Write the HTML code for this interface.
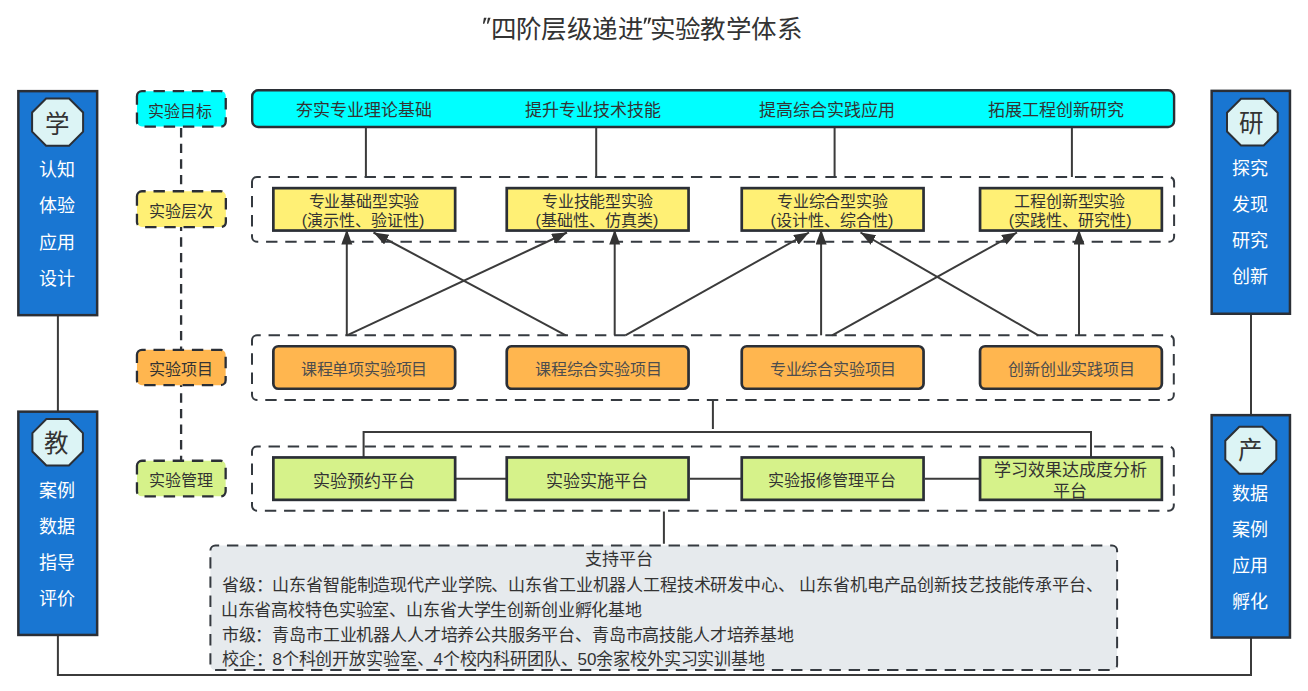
<!DOCTYPE html>
<html lang="zh-CN">
<head>
<meta charset="utf-8">
<style>
html,body{margin:0;padding:0;background:#fff;}
body{width:1308px;height:691px;overflow:hidden;position:relative;font-family:"Liberation Sans",sans-serif;}
svg{position:absolute;left:0;top:0;}
text{font-family:"Liberation Sans",sans-serif;}
</style>
</head>
<body>
<svg width="1308" height="691" viewBox="0 0 1308 691">
<defs>
<marker id="ah" markerUnits="userSpaceOnUse" markerWidth="20" markerHeight="20" refX="15" refY="5.5" orient="auto">
<path d="M0,0 L15,5.5 L0,11 Z" fill="#333"/>
</marker>
</defs>
<g fill="#333">
<text x="490.5" y="38.3" font-size="25.5" fill="#333333" text-anchor="start" textLength="153.3" lengthAdjust="spacing">四阶层级递进</text>
<text x="649.5" y="38.3" font-size="25.5" fill="#333333" text-anchor="start" textLength="153.1" lengthAdjust="spacing">实验教学体系</text>
<path d="M483.9,17.8 H486.6 L484.3,23.7 H482.9 Z M487.9,17.8 H490.6 L488.3,23.7 H486.9 Z M644.6,17.8 H647.3 L645,23.7 H643.6 Z M648.6,17.8 H651.3 L649,23.7 H647.6 Z"/>
</g>
<path d="M57.9,316 V411 M57.9,636 V675 H1251 V638 M1251,315 V414" fill="none" stroke="#3b3b3b" stroke-width="2"/>
<rect x="18.35" y="91.15" width="78.80" height="224.00" fill="#1976D2" stroke="#2b2f36" stroke-width="2.5"/>
<rect x="18.35" y="411.65" width="78.80" height="223.30" fill="#1976D2" stroke="#2b2f36" stroke-width="2.5"/>
<rect x="1211.65" y="90.85" width="78.30" height="222.90" fill="#1976D2" stroke="#2b2f36" stroke-width="2.5"/>
<rect x="1211.65" y="415.15" width="78.30" height="222.40" fill="#1976D2" stroke="#2b2f36" stroke-width="2.5"/>
<path d="M46.1,98.5 H69.1 L83.1,112.5 V131.7 L69.1,145.7 H46.1 L32.1,131.7 V112.5 Z" fill="#DCF4F5" stroke="#2b2f36" stroke-width="2"/>
<path d="M46.4,419.1 H68.9 L82.9,433.1 V451.5 L68.9,465.5 H46.4 L32.4,451.5 V433.1 Z" fill="#DCF4F5" stroke="#2b2f36" stroke-width="2"/>
<path d="M1241.0,98.7 H1263.7 L1277.7,112.7 V131.5 L1263.7,145.5 H1241.0 L1227.0,131.5 V112.7 Z" fill="#DCF4F5" stroke="#2b2f36" stroke-width="2"/>
<path d="M1239.3,426.7 H1262.3 L1276.3,440.7 V459.7 L1262.3,473.7 H1239.3 L1225.3,459.7 V440.7 Z" fill="#DCF4F5" stroke="#2b2f36" stroke-width="2"/>
<text x="56.7" y="133.0" font-size="24.5" fill="#333333" text-anchor="middle">学</text>
<text x="56.0" y="451.7" font-size="24.5" fill="#333333" text-anchor="middle">教</text>
<text x="1251.4" y="132.2" font-size="24.5" fill="#333333" text-anchor="middle">研</text>
<text x="1249.7" y="459.3" font-size="24.5" fill="#333333" text-anchor="middle">产</text>
<text x="57.3" y="176.2" font-size="18" fill="#fff" text-anchor="middle">认知</text>
<text x="57.3" y="212.39999999999998" font-size="18" fill="#fff" text-anchor="middle">体验</text>
<text x="57.3" y="248.6" font-size="18" fill="#fff" text-anchor="middle">应用</text>
<text x="57.3" y="284.8" font-size="18" fill="#fff" text-anchor="middle">设计</text>
<text x="57.3" y="496.7" font-size="18" fill="#fff" text-anchor="middle">案例</text>
<text x="57.3" y="532.9" font-size="18" fill="#fff" text-anchor="middle">数据</text>
<text x="57.3" y="569.1" font-size="18" fill="#fff" text-anchor="middle">指导</text>
<text x="57.3" y="605.3" font-size="18" fill="#fff" text-anchor="middle">评价</text>
<text x="1250" y="174.8" font-size="18" fill="#fff" text-anchor="middle">探究</text>
<text x="1250" y="211.0" font-size="18" fill="#fff" text-anchor="middle">发现</text>
<text x="1250" y="247.20000000000002" font-size="18" fill="#fff" text-anchor="middle">研究</text>
<text x="1250" y="283.40000000000003" font-size="18" fill="#fff" text-anchor="middle">创新</text>
<text x="1249.9" y="499.5" font-size="18" fill="#fff" text-anchor="middle">数据</text>
<text x="1249.9" y="535.7" font-size="18" fill="#fff" text-anchor="middle">案例</text>
<text x="1249.9" y="571.9" font-size="18" fill="#fff" text-anchor="middle">应用</text>
<text x="1249.9" y="608.1" font-size="18" fill="#fff" text-anchor="middle">孵化</text>
<path d="M181.1,128.1 V460" fill="none" stroke="#2f3338" stroke-width="2.3" stroke-dasharray="9.4 6.2"/>
<path d="M136.95000000000002,96.15 A5,5 0 0 1 141.95000000000002,91.15 H220.75 A5,5 0 0 1 225.75,96.15 V121.55 A5,5 0 0 1 220.75,126.55 H141.95000000000002 A5,5 0 0 1 136.95000000000002,121.55 Z" fill="#00FFFF" stroke="#2b2f36" stroke-width="2.3" stroke-dasharray="11.4 7.8" stroke-dashoffset="0"/>
<path d="M136.95000000000002,196.25 A5,5 0 0 1 141.95000000000002,191.25 H220.85 A5,5 0 0 1 225.85,196.25 V222.04999999999998 A5,5 0 0 1 220.85,227.04999999999998 H141.95000000000002 A5,5 0 0 1 136.95000000000002,222.04999999999998 Z" fill="#FFF075" stroke="#2b2f36" stroke-width="2.3" stroke-dasharray="11.4 7.8" stroke-dashoffset="0"/>
<path d="M136.95000000000002,354.84999999999997 A5,5 0 0 1 141.95000000000002,349.84999999999997 H220.65 A5,5 0 0 1 225.65,354.84999999999997 V380.15000000000003 A5,5 0 0 1 220.65,385.15000000000003 H141.95000000000002 A5,5 0 0 1 136.95000000000002,380.15000000000003 Z" fill="#FFB64F" stroke="#2b2f36" stroke-width="2.3" stroke-dasharray="11.4 7.8" stroke-dashoffset="0"/>
<path d="M136.95000000000002,465.75 A5,5 0 0 1 141.95000000000002,460.75 H220.65 A5,5 0 0 1 225.65,465.75 V491.35 A5,5 0 0 1 220.65,496.35 H141.95000000000002 A5,5 0 0 1 136.95000000000002,491.35 Z" fill="#D6F28A" stroke="#2b2f36" stroke-width="2.3" stroke-dasharray="11.4 7.8" stroke-dashoffset="0"/>
<text x="180.2" y="117" font-size="16" fill="#333333" text-anchor="middle" font-weight="500">实验目标</text>
<text x="180.75" y="217" font-size="16" fill="#333333" text-anchor="middle" font-weight="500">实验层次</text>
<text x="180.55" y="375" font-size="16" fill="#333333" text-anchor="middle" font-weight="500">实验项目</text>
<text x="180.5" y="486" font-size="16" fill="#333333" text-anchor="middle" font-weight="500">实验管理</text>
<path d="M252.2,96.3 A6,6 0 0 1 258.2,90.3 H1168.1 A6,6 0 0 1 1174.1,96.3 V120.99999999999999 A6,6 0 0 1 1168.1,126.99999999999999 H258.2 A6,6 0 0 1 252.2,120.99999999999999 Z" fill="#00FFFF" stroke="#2b2f36" stroke-width="2.4"/>
<text x="363.6" y="116.3" font-size="17" fill="#333333" text-anchor="middle" font-weight="500">夯实专业理论基础</text>
<text x="593.05" y="116.3" font-size="17" fill="#333333" text-anchor="middle" font-weight="500">提升专业技术技能</text>
<text x="827.4" y="116.3" font-size="17" fill="#333333" text-anchor="middle" font-weight="500">提高综合实践应用</text>
<text x="1055.6" y="116.3" font-size="17" fill="#333333" text-anchor="middle" font-weight="500">拓展工程创新研究</text>
<path d="M365.9,128 V177 M596.2,128 V177 M834.6,128 V177 M1071.9,128 V177" fill="none" stroke="#3b3b3b" stroke-width="2"/>
<path d="M252.0,181.9 A5,5 0 0 1 257.0,176.9 H1169.1 A5,5 0 0 1 1174.1,181.9 V236.8 A5,5 0 0 1 1169.1,241.8 H257.0 A5,5 0 0 1 252.0,236.8 Z" fill="none" stroke="#353a40" stroke-width="2.0" stroke-dasharray="11.4 7.8" stroke-dashoffset="0"/>
<path d="M252.0,340.3 A5,5 0 0 1 257.0,335.3 H1168.8 A5,5 0 0 1 1173.8,340.3 V395.0 A5,5 0 0 1 1168.8,400.0 H257.0 A5,5 0 0 1 252.0,395.0 Z" fill="none" stroke="#353a40" stroke-width="2.0" stroke-dasharray="11.4 7.8" stroke-dashoffset="0"/>
<path d="M252.0,451.4 A5,5 0 0 1 257.0,446.4 H1168.8 A5,5 0 0 1 1173.8,451.4 V505.7 A5,5 0 0 1 1168.8,510.7 H257.0 A5,5 0 0 1 252.0,505.7 Z" fill="none" stroke="#353a40" stroke-width="2.0" stroke-dasharray="11.4 7.8" stroke-dashoffset="0"/>
<rect x="273.35" y="188.15" width="181.80" height="42.40" fill="#FFF075" stroke="#2b2f36" stroke-width="2.7"/>
<rect x="506.75" y="188.15" width="181.80" height="42.40" fill="#FFF075" stroke="#2b2f36" stroke-width="2.7"/>
<rect x="741.75" y="188.15" width="181.80" height="42.40" fill="#FFF075" stroke="#2b2f36" stroke-width="2.7"/>
<rect x="980.05" y="188.15" width="181.80" height="42.40" fill="#FFF075" stroke="#2b2f36" stroke-width="2.7"/>
<text x="364" y="207.2" font-size="16" fill="#333333" text-anchor="middle" font-weight="500" textLength="110.8" lengthAdjust="spacing">专业基础型实验</text>
<text x="363.05" y="225.7" font-size="16" fill="#333333" text-anchor="middle" font-weight="500">(演示性、验证性)</text>
<text x="597.4" y="207.2" font-size="16" fill="#333333" text-anchor="middle" font-weight="500" textLength="110.8" lengthAdjust="spacing">专业技能型实验</text>
<text x="596.95" y="225.7" font-size="16" fill="#333333" text-anchor="middle" font-weight="500">(基础性、仿真类)</text>
<text x="832.4" y="207.2" font-size="16" fill="#333333" text-anchor="middle" font-weight="500" textLength="110.8" lengthAdjust="spacing">专业综合型实验</text>
<text x="831.9" y="225.7" font-size="16" fill="#333333" text-anchor="middle" font-weight="500">(设计性、综合性)</text>
<text x="1069.85" y="207.2" font-size="16" fill="#333333" text-anchor="middle" font-weight="500" textLength="110.8" lengthAdjust="spacing">工程创新型实验</text>
<text x="1070.15" y="225.7" font-size="16" fill="#333333" text-anchor="middle" font-weight="500">(实践性、研究性)</text>
<g stroke="#3b3b3b" stroke-width="2" fill="none" marker-end="url(#ah)">
<path d="M346.8,335.3 V229.5"/>
<path d="M347,335.3 L567,232.5"/>
<path d="M565.8,335.3 L373.5,232.5"/>
<path d="M614.7,335.3 V229.5"/>
<path d="M625.4,335.3 L809,232.5"/>
<path d="M821.1,335.3 V229.5"/>
<path d="M832.1,335.3 L1017,232.5"/>
<path d="M1038.3,335.3 L860.5,232.5"/>
<path d="M1079,335.3 V229.5"/>
</g>
<path d="M273.35,351.25 A5,5 0 0 1 278.35,346.25 H450.15 A5,5 0 0 1 455.15,351.25 V383.75 A5,5 0 0 1 450.15,388.75 H278.35 A5,5 0 0 1 273.35,383.75 Z" fill="#FFB64F" stroke="#2b2f36" stroke-width="2.7"/>
<path d="M506.75,351.25 A5,5 0 0 1 511.75,346.25 H683.55 A5,5 0 0 1 688.55,351.25 V383.75 A5,5 0 0 1 683.55,388.75 H511.75 A5,5 0 0 1 506.75,383.75 Z" fill="#FFB64F" stroke="#2b2f36" stroke-width="2.7"/>
<path d="M741.75,351.25 A5,5 0 0 1 746.75,346.25 H918.55 A5,5 0 0 1 923.55,351.25 V383.75 A5,5 0 0 1 918.55,388.75 H746.75 A5,5 0 0 1 741.75,383.75 Z" fill="#FFB64F" stroke="#2b2f36" stroke-width="2.7"/>
<path d="M980.0500000000001,351.25 A5,5 0 0 1 985.0500000000001,346.25 H1156.8500000000001 A5,5 0 0 1 1161.8500000000001,351.25 V383.75 A5,5 0 0 1 1156.8500000000001,388.75 H985.0500000000001 A5,5 0 0 1 980.0500000000001,383.75 Z" fill="#FFB64F" stroke="#2b2f36" stroke-width="2.7"/>
<text x="364.1" y="374.5" font-size="16" fill="#4d4d4d" text-anchor="middle" textLength="126.5" lengthAdjust="spacing">课程单项实验项目</text>
<text x="598.25" y="374.5" font-size="16" fill="#4d4d4d" text-anchor="middle" textLength="126.5" lengthAdjust="spacing">课程综合实验项目</text>
<text x="833.15" y="374.5" font-size="16" fill="#4d4d4d" text-anchor="middle" textLength="126.5" lengthAdjust="spacing">专业综合实验项目</text>
<text x="1071.45" y="374.5" font-size="16" fill="#4d4d4d" text-anchor="middle" textLength="126.5" lengthAdjust="spacing">创新创业实践项目</text>
<path d="M712.9,400.3 V428.9 M363.6,457 V432 H1091 V457 M456,478.7 H506 M690,478.7 H741 M925,478.7 H979.5 M663.9,511.5 V543.7" fill="none" stroke="#3b3b3b" stroke-width="2"/>
<rect x="273.35" y="457.45" width="181.80" height="42.40" fill="#D6F28A" stroke="#2b2f36" stroke-width="2.7"/>
<rect x="506.75" y="457.45" width="181.80" height="42.40" fill="#D6F28A" stroke="#2b2f36" stroke-width="2.7"/>
<rect x="741.75" y="457.45" width="181.80" height="42.40" fill="#D6F28A" stroke="#2b2f36" stroke-width="2.7"/>
<rect x="980.05" y="457.45" width="181.80" height="42.40" fill="#D6F28A" stroke="#2b2f36" stroke-width="2.7"/>
<text x="363.6" y="486.8" font-size="17" fill="#333333" text-anchor="middle" font-weight="500">实验预约平台</text>
<text x="597.15" y="486.8" font-size="17" fill="#333333" text-anchor="middle" font-weight="500">实验实施平台</text>
<text x="832.2" y="486.3" font-size="16" fill="#333333" text-anchor="middle" font-weight="500" textLength="128.5" lengthAdjust="spacing">实验报修管理平台</text>
<text x="1070.5" y="476.2" font-size="17" fill="#333333" text-anchor="middle" font-weight="500">学习效果达成度分析</text>
<text x="1070" y="497.3" font-size="17" fill="#333333" text-anchor="middle" font-weight="500">平台</text>
<path d="M210.4,550.4 A5,5 0 0 1 215.4,545.4 H1112.1 A5,5 0 0 1 1117.1,550.4 V665.1 A5,5 0 0 1 1112.1,670.1 H215.4 A5,5 0 0 1 210.4,665.1 Z" fill="#E6EAED" stroke="#353a40" stroke-width="2.0" stroke-dasharray="11.4 7.8" stroke-dashoffset="0"/>
<text x="618.8" y="565.3" font-size="17" fill="#333333" text-anchor="middle">支持平台</text>
<text x="221.8" y="591.2" font-size="17" fill="#333333" text-anchor="start" textLength="881" lengthAdjust="spacing">省级：山东省智能制造现代产业学院、山东省工业机器人工程技术研发中心、 山东省机电产品创新技艺技能传承平台、</text>
<text x="220.7" y="616.2" font-size="17" fill="#333333" text-anchor="start" textLength="421.5" lengthAdjust="spacing">山东省高校特色实验室、山东省大学生创新创业孵化基地</text>
<text x="221.8" y="641.2" font-size="17" fill="#333333" text-anchor="start" textLength="572.2" lengthAdjust="spacing">市级：青岛市工业机器人人才培养公共服务平台、青岛市高技能人才培养基地</text>
<text x="221.8" y="665.4000000000001" font-size="17" fill="#333333" text-anchor="start" textLength="543.2" lengthAdjust="spacing">校企：8个科创开放实验室、4个校内科研团队、50余家校外实习实训基地</text>
</svg>
</body>
</html>
